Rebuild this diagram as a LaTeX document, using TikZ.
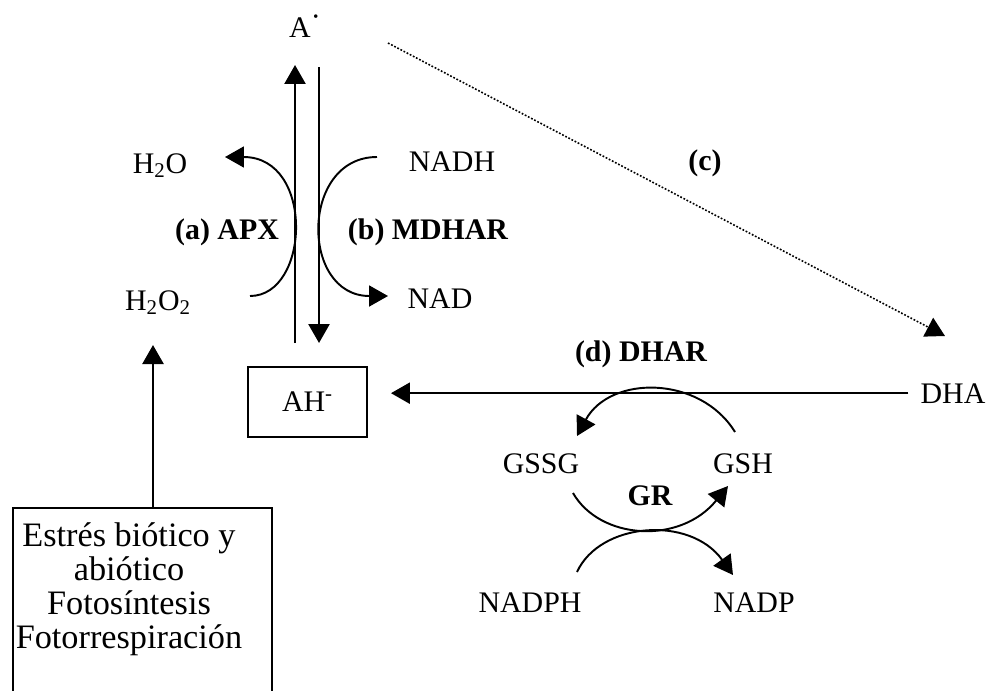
\documentclass[tikz,border=0pt]{standalone}
\usepackage{fontspec}
\setmainfont{Liberation Serif}
\usepackage{tikz}
\usetikzlibrary{arrows.meta, calc}

\begin{document}
\begin{tikzpicture}[x=0.02cm, y=-0.02cm,
  lbl/.style={font=\fontsize{17}{20}\selectfont, inner sep=0pt, anchor=base},
  enz/.style={lbl, font=\fontsize{17}{20}\selectfont\bfseries},
  tip/.style={-{Triangle[length=0.38cm, width=0.42cm]}},
  stem/.style={tip, line width=1.4pt},
  curvearrow/.style={tip, line width=1.1pt}]
  \useasboundingbox (0,0) rectangle (994,690);

  % Ascorbate and its partners
  \node[lbl] (A) at (305,37) {A\raisebox{0.34em}{·}};
  \node[lbl] (H2O) at (160,173) {H\textsubscript{2}O};
  \node[lbl] (NADH) at (452,171) {NADH};
  \node[lbl] (H2O2) at (158,310) {H\textsubscript{2}O\textsubscript{2}};
  \node[lbl] (NAD) at (440,308) {NAD};
  \node[draw, line width=1.1pt, minimum width=2.38cm, minimum height=1.4cm, inner sep=0pt, font=\fontsize{17}{20}\selectfont] (AH) at (307.5,402) {AH\textsuperscript{-}};
  \node[lbl] (DHA) at (953,403) {DHA};

  % Enzymes
  \node[enz] (APX) at (227,239) {(a) APX};
  \node[enz] (MDHAR) at (428,239) {(b) MDHAR};
  \node[enz] (c) at (705,170) {(c)};
  \node[enz] (DHAR) at (641,361) {(d) DHAR};
  \node[enz] (GR) at (650,505) {GR};

  % Glutathione cycle
  \node[lbl] (GSSG) at (541,473) {GSSG};
  \node[lbl] (GSH) at (743,473) {GSH};
  \node[lbl] (NADPH) at (530,612) {NADPH};
  \node[lbl] (NADP) at (754,612) {NADP};

  % Sources of H2O2
  \node[font=\fontsize{19.5}{19.3}\selectfont, align=center, inner sep=0pt] (stress) at (129,589)
    {Estrés biótico y\\abiótico\\Fotosíntesis\\Fotorrespiración};
  \draw[line width=1.1pt] (13,700) |- (272,508) -- (272,700);

  % Free ends
  \coordinate (upS) at (295,343);
  \coordinate (upE) at (295,65);
  \coordinate (dnS) at (319,67);
  \coordinate (dnE) at (319,343);
  \coordinate (srcS) at (153,508);
  \coordinate (srcE) at (153,345);
  \coordinate (cS) at (388,43);
  \coordinate (cE) at (945,336);

  % Straight arrows
  \draw[stem] (upS) -- (upE);
  \draw[stem] (dnS) -- (dnE);
  \draw[stem] (srcS) -- (srcE);
  \draw[stem, shorten <=0.24cm, shorten >=0.46cm] (DHA.west) -- (DHA.west -| AH.east);
  \draw[tip, line width=0.9pt, dash pattern=on 1pt off 1pt] (cS) -- (cE);

  % Bent arrows
  \draw[curvearrow] (250,296) .. controls (310,296) and (315,157) .. (225,157);
  \draw[curvearrow] (377,157) .. controls (300,157) and (300,296) .. (388,296);
  \draw[curvearrow] (735,432) .. controls (700,375) and (610,375) .. (577,436);
  \draw[curvearrow] (573,493) .. controls (600,540) and (680,545) .. (728,486);
  \draw[curvearrow] (577,572) .. controls (600,522) and (690,515) .. (733,575);
\end{tikzpicture}
\end{document}
